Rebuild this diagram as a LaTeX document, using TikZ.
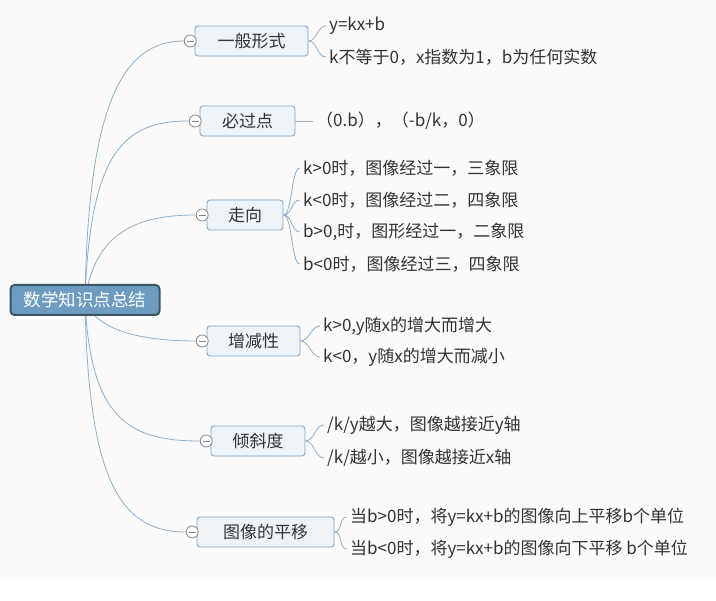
\documentclass[tikz,border=0pt]{standalone}
\usepackage{fontspec}
\setmainfont{Noto Sans CJK SC}
\usetikzlibrary{backgrounds}
\definecolor{bgc}{HTML}{FAFAFA}
\definecolor{linec}{HTML}{8FB0CC}
\definecolor{boxb}{HTML}{7CA3C4}
\definecolor{boxf}{HTML}{EEF3F8}
\definecolor{rootf}{HTML}{6E9BC0}
\definecolor{rootb}{HTML}{3C5566}
\definecolor{txt}{HTML}{333333}
\definecolor{togc}{HTML}{8A8A8A}
\begin{document}
\begin{tikzpicture}[x=1pt,y=-1pt,
  rootbox/.style={draw=rootb,fill=rootf,line width=2pt,rounded corners=4pt,minimum width=149pt,minimum height=30pt,inner sep=0pt,text=white,font=\fontsize{17.5}{20}\selectfont},
  topicbox/.style={draw=boxb,fill=boxf,line width=0.8pt,rounded corners=3pt,minimum height=30pt,inner sep=0pt,text=txt,font=\fontsize{17}{20}\selectfont},
  toggle/.style={circle,draw=togc,fill=white,line width=0.8pt,minimum size=12pt,inner sep=0pt,
    path picture={\draw[togc,line width=0.8pt] ([xshift=-3.5pt]path picture bounding box.center) -- ([xshift=3.5pt]path picture bounding box.center);}},
  leaf/.style={anchor=west,inner sep=3pt,text=txt,font=\fontsize{17}{20}\selectfont},
  conn/.style={draw=linec,line width=0.8pt}]
\useasboundingbox (0,0) rectangle (716,601);

% root
\node[rootbox] (root) at (85,300) {数学知识点总结};

% topics
\node[topicbox,minimum width=113pt] (c1) at (251.5,41) {一般形式};
\node[topicbox,minimum width=95pt] (c2) at (247.5,121) {必过点};
\node[topicbox,minimum width=76pt] (c3) at (245,215) {走向};
\node[topicbox,minimum width=93pt] (c4) at (253.5,341) {增减性};
\node[topicbox,minimum width=94pt] (c5) at (258,441) {倾斜度};
\node[topicbox,minimum width=137pt] (c6) at (265.5,532) {图像的平移};

% toggles
\foreach \i in {1,...,6}{
  \node[toggle,anchor=east,xshift=2pt] (t\i) at (c\i.west) {};
}

% leaves
\node[leaf] (l11) at (326,26) {y=kx+b};
\node[leaf] (l12) at (326,57) {k不等于0，x指数为1，b为任何实数};
\node[leaf] (l21) at (313,121) {（0.b），（-b/k，0）};
\node[leaf] (l31) at (300,168) {k>0时，图像经过一，三象限};
\node[leaf] (l32) at (300,200) {k<0时，图像经过二，四象限};
\node[leaf] (l33) at (300,232) {b>0,时，图形经过一，二象限};
\node[leaf] (l34) at (300,264) {b<0时，图像经过三，四象限};
\node[leaf] (l41) at (320,326) {k>0,y随x的增大而增大};
\node[leaf] (l42) at (320,357) {k<0，y随x的增大而减小};
\node[leaf] (l51) at (324,425) {/k/y越大，图像越接近y轴};
\node[leaf] (l52) at (324,458) {/k/越小，图像越接近x轴};
\node[leaf] (l61) at (347,517) {当b>0时，将y=kx+b的图像向上平移b个单位};
\node[leaf] (l62) at (347,549) {当b<0时，将y=kx+b的图像向下平移 b个单位};

\begin{pgfonlayer}{background}
  \fill[white] (0,0) rectangle (716,601);
  \fill[bgc] (0,0) rectangle (716,580);
  % root to topics
  \draw[conn] (root.center) .. controls (88,110) and (120,41) .. (t1.west);
  \draw[conn] (root.center) .. controls (90,150) and (125,121) .. (t2.west);
  \draw[conn] (root.center) .. controls (95,230) and (140,215) .. (t3.west);
  \draw[conn] (root.center) .. controls (95,330) and (140,341) .. (t4.west);
  \draw[conn] (root.center) .. controls (90,420) and (130,441) .. (t5.west);
  \draw[conn] (root.center) .. controls (88,480) and (120,532) .. (t6.west);
  % topics to leaves
  \foreach \c/\l in {c1/l11,c1/l12,c3/l31,c3/l32,c3/l33,c3/l34,c4/l41,c4/l42,c5/l51,c5/l52,c6/l61,c6/l62}{
    \draw[conn] (\c.east) .. controls +(9,0) and +(-9,0) .. (\l.west);
  }
  \draw[conn] (c2.east) -- (l21.west);
\end{pgfonlayer}
\end{tikzpicture}
\end{document}
